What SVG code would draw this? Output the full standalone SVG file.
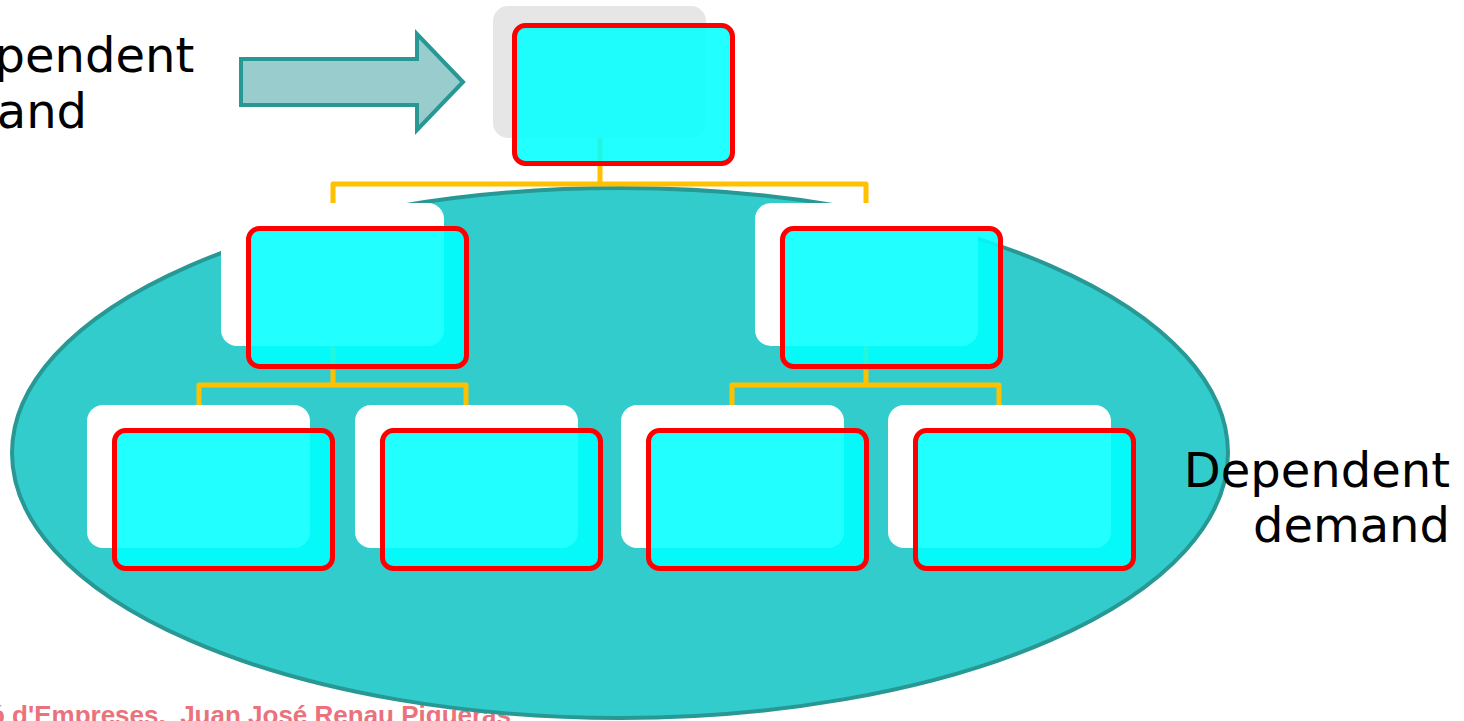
<svg xmlns="http://www.w3.org/2000/svg" width="1464" height="721" viewBox="0 0 1464 721">
  <style>
    .lbl { font-family: "DejaVu Sans", Verdana, sans-serif; font-size: 48px; fill: #000; }
    .foot { font-family: "Liberation Sans", Arial, sans-serif; font-weight: bold; font-size: 26px; fill: #E85A66; opacity: 0.85; }
    .shadow { fill: #FFFFFF; }
    .node { fill: #00FFFF; fill-opacity: 0.87; stroke: #FF0000; stroke-width: 5; }
    .conn { fill: none; stroke: #FFC000; stroke-width: 5; stroke-linejoin: round; }
  </style>
  <rect x="0" y="0" width="1464" height="721" fill="#FFFFFF"/>

  <text class="foot" x="-11" y="724" xml:space="preserve">ó d'Empreses.  Juan José Renau Piqueras</text>

  <g id="demand-area">
    <ellipse cx="620" cy="453" rx="608" ry="265" fill="#33CCCC" stroke="#279894" stroke-width="4"/>
  </g>

  <g id="input-arrow">
    <path d="M241,59 H417 V34 L463,82 L417,130 V105 H241 Z" fill="#99CCCC" stroke="#279894" stroke-width="4"/>
  </g>

  <g id="connectors">
    <path class="conn" d="M600,138 V184 M333,203 V184 H866 V203"/>
    <path class="conn" d="M333,346 V385 M199,405 V385 H466 V405"/>
    <path class="conn" d="M866,346 V385 M732,405 V385 H999 V405"/>
  </g>

  <g id="node-top">
    <rect x="493" y="6" width="213" height="132" rx="15" fill="#E6E6E6"/>
    <rect class="node" x="514.5" y="25.5" width="218" height="138" rx="11"/>
  </g>

  <g id="node-l2-left">
    <rect class="shadow" x="221" y="203" width="223" height="143" rx="16"/>
    <rect class="node" x="248.5" y="228.5" width="218" height="138" rx="11"/>
  </g>
  <g id="node-l2-right">
    <rect class="shadow" x="755" y="203" width="223" height="143" rx="16"/>
    <rect class="node" x="782.5" y="228.5" width="218" height="138" rx="11"/>
  </g>

  <g id="node-l3-1">
    <rect class="shadow" x="87" y="405" width="223" height="143" rx="16"/>
    <rect class="node" x="114.5" y="430.5" width="218" height="138" rx="11"/>
  </g>
  <g id="node-l3-2">
    <rect class="shadow" x="355" y="405" width="223" height="143" rx="16"/>
    <rect class="node" x="382.5" y="430.5" width="218" height="138" rx="11"/>
  </g>
  <g id="node-l3-3">
    <rect class="shadow" x="621" y="405" width="223" height="143" rx="16"/>
    <rect class="node" x="648.5" y="430.5" width="218" height="138" rx="11"/>
  </g>
  <g id="node-l3-4">
    <rect class="shadow" x="888" y="405" width="223" height="143" rx="16"/>
    <rect class="node" x="915.5" y="430.5" width="218" height="138" rx="11"/>
  </g>

  <g id="label-independent">
    <text class="lbl" x="-110" y="72">Independent</text>
    <text class="lbl" x="-110" y="128">demand</text>
  </g>
  <g id="label-dependent">
    <text class="lbl" x="1450" y="487" text-anchor="end">Dependent</text>
    <text class="lbl" x="1450" y="542" text-anchor="end">demand</text>
  </g>
</svg>
